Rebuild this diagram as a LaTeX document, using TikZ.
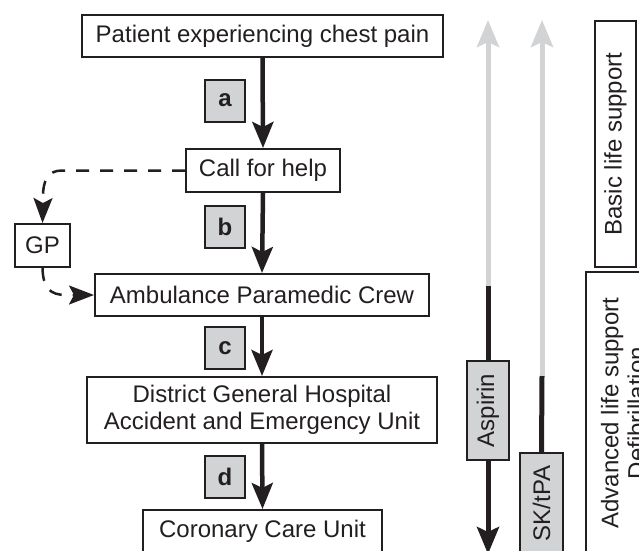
\documentclass[tikz,border=0pt]{standalone}
\usepackage{fontspec}
\setmainfont{Liberation Sans}
\usetikzlibrary{arrows.meta}
\definecolor{ink}{HTML}{231F20}
\definecolor{lightg}{HTML}{D1D3D4}
\pgfdeclarelayer{bg}
\pgfsetlayers{bg,main}
\begin{document}
\begin{tikzpicture}[x=1pt,y=-1pt,
  every node/.style={font=\fontsize{24}{26.5}\selectfont, text=ink, inner sep=0pt},
  box/.style={draw=ink, line width=2pt, fill=white, minimum height=42pt},
  tag/.style={box, fill=lightg, font=\fontsize{24}{26.5}\selectfont\bfseries, minimum width=40pt, minimum height=42pt},
  vbox/.style={box, rotate=90},
  vtag/.style={box, fill=lightg, rotate=90},
  mainarrow/.style={draw=ink, line width=4.5pt, -{Stealth[length=26pt,width=21pt,inset=5pt]}},
  grayarrow/.style={draw=lightg, line width=5pt, -{Stealth[length=27pt,width=22pt,inset=5pt]}},
  blackline/.style={draw=ink, line width=5pt},
  blackarrow/.style={blackline, -{Stealth[length=27pt,width=22pt,inset=5pt]}},
  dasharrow/.style={draw=ink, line width=2.5pt, dash pattern=on 13pt off 11pt, -{Stealth[length=25pt,width=19pt,inset=5pt]}}
]
\useasboundingbox (0,0) rectangle (639,550);
\clip (0,0) rectangle (639,550);

% main column
\node[box, minimum width=361pt] (p) at (262.5,36) {Patient experiencing chest pain};
\node[box, minimum width=154pt, minimum height=43pt] (c) at (263,170.5) {Call for help};
\node[box, minimum width=334pt] (amb) at (262,295) {Ambulance Paramedic Crew};
\node[box, minimum width=350pt, minimum height=66pt, align=center] (dgh) at (262,410) {District General Hospital\\Accident and Emergency Unit};
\node[box, minimum width=239pt] (ccu) at (262.5,531) {Coronary Care Unit};
\node[box, minimum width=55pt, minimum height=43pt] (gp) at (42.5,245.5) {GP};

\node[tag] (ta) at (225,100.5) {a};
\node[tag] (tb) at (225,227) {b};
\node[tag] (tc) at (225,348) {c};
\node[tag] (td) at (225,476.5) {d};

\draw[mainarrow] (p.south) -- (c.north);
\draw[mainarrow] (c.south) -- (amb.north);
\draw[mainarrow] (amb.south) -- (dgh.north);
\draw[mainarrow] (dgh.south) -- (ccu.north);

\draw[dasharrow] (c.west) -- (62,170.5) .. controls (48,170.5) and (43,180) .. (43,197) -- (gp.north);
\draw[dasharrow] (gp.south) .. controls (43,288) and (50,295) .. (66,295) -- (amb.west);

% right side
\coordinate (g1top) at (488,20);
\coordinate (g1mid) at (488,286);
\coordinate (g1end) at (488,554);
\coordinate (g2top) at (542,20);
\coordinate (g2mid) at (542,376);

\node[vtag, minimum width=99pt] (asp) at (488,410.5) {Aspirin};
\node[vtag, minimum width=101pt, minimum height=43pt] (sk) at (541.5,503.5) {SK/tPA};
\node[vbox, minimum width=246pt, minimum height=41pt] (bls) at (615.5,144) {Basic life support};
\node[vbox, minimum width=283pt, minimum height=74pt, align=center] (als) at (623,413) {Advanced life support\\Defibrillation};

\begin{pgfonlayer}{bg}
\draw[grayarrow] (g1mid) -- (g1top);
\draw[grayarrow] (g2mid) -- (g2top);
\draw[blackline] (g1mid) -- (asp.east);
\draw[blackarrow] (asp.west) -- (g1end);
\draw[blackline] (g2mid) -- (sk.east);
\end{pgfonlayer}
\end{tikzpicture}
\end{document}
